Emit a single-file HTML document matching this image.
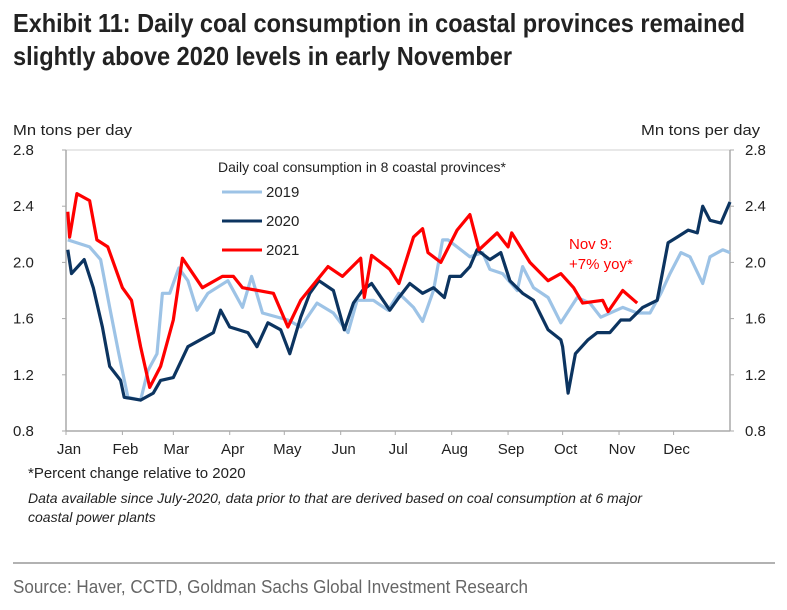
<!DOCTYPE html>
<html><head><meta charset="utf-8"><style>
html,body{margin:0;padding:0;background:#fff;}
svg{display:block;font-family:"Liberation Sans",sans-serif;}
</style></head><body>
<svg id="chart" width="787" height="610" viewBox="0 0 787 610">
<text x="13" y="32" font-size="26" font-weight="bold" fill="#222" textLength="732" lengthAdjust="spacingAndGlyphs">Exhibit 11: Daily coal consumption in coastal provinces remained</text>
<text x="13" y="65" font-size="26" font-weight="bold" fill="#222" textLength="499" lengthAdjust="spacingAndGlyphs">slightly above 2020 levels in early November</text>
<text x="13" y="135" font-size="15" fill="#222" textLength="119" lengthAdjust="spacingAndGlyphs">Mn tons per day</text>
<text x="760" y="135" font-size="15" fill="#222" text-anchor="end" textLength="119" lengthAdjust="spacingAndGlyphs">Mn tons per day</text>
<line x1="66" y1="150" x2="730" y2="150" stroke="#d0d0d0" stroke-width="1"/>
<line x1="66" y1="150" x2="66" y2="431" stroke="#aaa" stroke-width="1.5"/>
<line x1="730" y1="150" x2="730" y2="431" stroke="#aaa" stroke-width="1.5"/>
<line x1="66" y1="431" x2="730" y2="431" stroke="#aaa" stroke-width="1.5"/>
<g id="yticks"></g><g id="xticks"></g>
<g id="series"></g>
<text x="218" y="172" font-size="14" fill="#222">Daily coal consumption in 8 coastal provinces*</text>
<g><line x1="222" y1="192" x2="262" y2="192" stroke="#9dc3e6" stroke-width="3"/><text x="266" y="197" font-size="15" fill="#222">2019</text></g>
<g><line x1="222" y1="221" x2="262" y2="221" stroke="#0c3460" stroke-width="3"/><text x="266" y="226" font-size="15" fill="#222">2020</text></g>
<g><line x1="222" y1="250" x2="262" y2="250" stroke="#ff0000" stroke-width="3"/><text x="266" y="255" font-size="15" fill="#222">2021</text></g>
<text x="569" y="249" font-size="15" fill="#ff0000">Nov 9:</text>
<text x="569" y="269" font-size="15" fill="#ff0000">+7% yoy*</text>
<text x="28" y="478" font-size="15" fill="#222">*Percent change relative to 2020</text>
<text x="28" y="503" font-size="14" font-style="italic" fill="#222">Data available since July-2020, data prior to that are derived based on coal consumption at 6 major</text>
<text x="28" y="522" font-size="14" font-style="italic" fill="#222">coastal power plants</text>
<line x1="13" y1="563" x2="775" y2="563" stroke="#999" stroke-width="1.5"/>
<text x="13" y="593" font-size="18" fill="#666" textLength="515" lengthAdjust="spacingAndGlyphs">Source: Haver, CCTD, Goldman Sachs Global Investment Research</text>
</svg>
<script>
const yTicks=[0.8,1.2,1.6,2.0,2.4,2.8];
const yTickLabels=["0.8","1.2","1.6","2.0","2.4","2.8"];
const monthStarts=[0,31,59,90,120,151,181,212,243,273,304,334];
const monthLabels=["Jan","Feb","Mar","Apr","May","Jun","Jul","Aug","Sep","Oct","Nov","Dec"];
const days2019=[1,13,19,24,29,34,41,45,50,53,57,62,67,72,78,89,97,102,108,122,129,138,147,155,160,169,177,183,191,196,202,207,210,215,222,229,233,240,248,251,257,265,272,281,288,294,306,314,321,327,332,338,343,350,354,361,365];
const vals2019=[2.16,2.11,2.02,1.68,1.35,1.04,1.02,1.23,1.35,1.78,1.78,1.96,1.87,1.66,1.78,1.87,1.68,1.90,1.64,1.59,1.54,1.71,1.64,1.50,1.73,1.73,1.66,1.78,1.68,1.58,1.80,2.16,2.16,2.11,2.04,2.07,1.95,1.92,1.80,1.97,1.82,1.75,1.57,1.75,1.71,1.61,1.68,1.64,1.64,1.78,1.92,2.07,2.04,1.85,2.04,2.09,2.07];
const days2020=[1,3,10,15,20,24,30,32,41,48,52,59,67,74,81,85,90,100,105,111,118,123,129,134,139,147,153,158,163,168,178,183,189,196,202,208,211,217,222,226,233,239,244,251,257,265,272,273,276,280,287,292,299,305,310,317,325,331,336,342,347,350,354,360,365];
const vals2020=[2.09,1.92,2.02,1.82,1.54,1.26,1.16,1.04,1.02,1.07,1.16,1.18,1.40,1.45,1.50,1.66,1.54,1.50,1.40,1.57,1.52,1.35,1.61,1.78,1.87,1.80,1.52,1.71,1.80,1.85,1.66,1.75,1.85,1.78,1.82,1.75,1.90,1.90,1.97,2.09,2.02,2.07,1.87,1.78,1.73,1.52,1.45,1.40,1.07,1.35,1.45,1.50,1.50,1.59,1.59,1.68,1.73,2.14,2.18,2.23,2.21,2.40,2.30,2.28,2.43];
const days2021=[1,2,6,13,17,23,31,36,41,46,52,59,64,75,86,92,97,114,122,129,144,152,162,164,168,178,183,191,196,199,206,215,222,227,237,243,245,255,265,272,279,284,295,298,306,314];
const vals2021=[2.36,2.18,2.49,2.44,2.16,2.11,1.82,1.73,1.40,1.11,1.26,1.59,2.03,1.82,1.90,1.90,1.82,1.78,1.54,1.73,1.97,1.90,2.03,1.75,2.05,1.95,1.85,2.18,2.24,2.07,2.00,2.23,2.34,2.09,2.21,2.11,2.21,2.00,1.87,1.92,1.82,1.71,1.73,1.65,1.80,1.71];

const NS='http://www.w3.org/2000/svg';
const X0=66,X1=730,Y0=431,Y1=150,VMIN=0.8,VMAX=2.8,DMAX=365;
function xScale(d){return X0+(X1-X0)*d/DMAX;}
function yScale(v){return Y0-(Y0-Y1)*(v-VMIN)/(VMAX-VMIN);}

const yg=document.getElementById('yticks');
yTicks.forEach((v,i)=>{
  const y=yScale(v);
  const t1=document.createElementNS(NS,'line');
  t1.setAttribute('x1',62);t1.setAttribute('x2',66);t1.setAttribute('y1',y);t1.setAttribute('y2',y);t1.setAttribute('stroke','#aaa');
  
  
  yg.appendChild(t1);
  const t2=document.createElementNS(NS,'line');
  t2.setAttribute('x1',730);t2.setAttribute('x2',734);t2.setAttribute('y1',y);t2.setAttribute('y2',y);t2.setAttribute('stroke','#aaa');
  
  
  yg.appendChild(t2);
  const l=document.createElementNS(NS,'text');
  l.setAttribute('x',13);l.setAttribute('y',y+5);l.setAttribute('font-size','15');l.setAttribute('fill','#222');
  l.textContent=yTickLabels[i];
  
  
  yg.appendChild(l);
  const r=document.createElementNS(NS,'text');
  r.setAttribute('x',745);r.setAttribute('y',y+5);r.setAttribute('font-size','15');r.setAttribute('fill','#222');
  r.textContent=yTickLabels[i];
  
  
  yg.appendChild(r);
});
const xg=document.getElementById('xticks');
monthStarts.forEach((d,i)=>{
  const x=xScale(d);
  const t=document.createElementNS(NS,'line');
  t.setAttribute('x1',x);t.setAttribute('x2',x);t.setAttribute('y1',431);t.setAttribute('y2',435);t.setAttribute('stroke','#aaa');
  
  
  xg.appendChild(t);
  const l=document.createElementNS(NS,'text');
  l.setAttribute('x',x+3);l.setAttribute('y',454);l.setAttribute('font-size','15');l.setAttribute('fill','#222');l.setAttribute('text-anchor','middle');
  l.textContent=monthLabels[i];
  
  
  xg.appendChild(l);
});
const sg=document.getElementById('series');
function drawSeries(days,vals,color,name){
  const p=document.createElementNS(NS,'polyline');
  p.setAttribute('points',days.map((d,i)=>xScale(d).toFixed(1)+','+yScale(vals[i]).toFixed(1)).join(' '));
  p.setAttribute('fill','none');p.setAttribute('stroke',color);p.setAttribute('stroke-width','3.2');p.setAttribute('stroke-linejoin','round');
  
  
  sg.appendChild(p);
}
drawSeries(days2019,vals2019,'#9dc3e6','line-2019');
drawSeries(days2020,vals2020,'#0c3460','line-2020');
drawSeries(days2021,vals2021,'#ff0000','line-2021');
</script>
</body></html>
